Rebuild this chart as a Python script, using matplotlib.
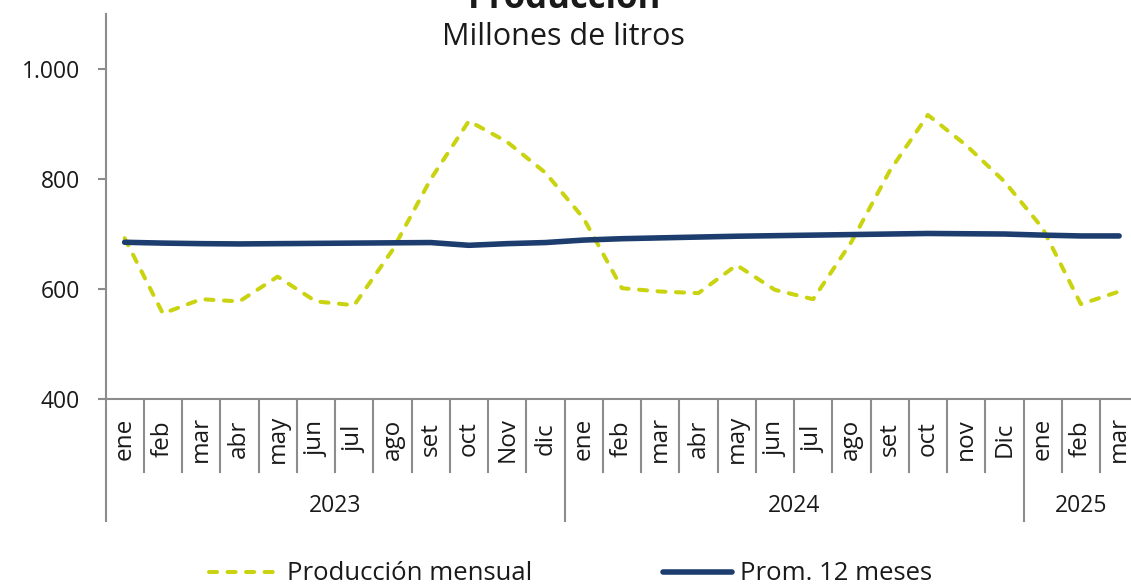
import matplotlib
matplotlib.use("Agg")
import matplotlib.pyplot as plt
import matplotlib.transforms as mtransforms
from matplotlib.lines import Line2D
from matplotlib.ticker import FuncFormatter

# data (millones de litros)
meses = ["ene", "feb", "mar", "abr", "may", "jun", "jul", "ago", "set", "oct", "Nov", "dic",
         "ene", "feb", "mar", "abr", "may", "jun", "jul", "ago", "set", "oct", "nov", "Dic",
         "ene", "feb", "mar"]
anios = ["2023", "2024", "2025"]
meses_por_anio = [12, 12, 3]
produccion = [693, 556, 582, 578, 623, 578, 571, 671, 800, 906, 868, 812,
              729, 602, 596, 593, 644, 599, 582, 686, 815, 917, 862, 796,
              711, 573, 596]
promedio = [685.5, 684, 683, 682.5, 683, 683.5, 684, 684.5, 685, 680, 683, 685,
            689.5, 692, 693.5, 695, 696.5, 697.5, 698.5, 699.5, 700.5, 701.5, 701, 700.5,
            698.5, 697, 697]

amarillo = "#CAD30F"
azul = "#1C3D6E"
gris = "#8C8C8C"
texto = "#1A1A1A"
fuente = "Open Sans"

W, H = 1131, 586
fig = plt.figure(figsize=(W / 100, H / 100), dpi=100)

# axes box in pixels: left 105.5, right 1138.25, top 14.3, bottom 399.3
left, right, top, bottom = 105.5, 1138.25, 14.3, 399.3
ax = fig.add_axes([left / W, (H - bottom) / H, (right - left) / W, (bottom - top) / H])

x = list(range(len(meses)))
ax.plot(x, produccion, color=amarillo, lw=2.9, dashes=(2.0, 2.6),
        dash_capstyle="round", solid_capstyle="round", zorder=2)
ax.plot(x, promedio, color=azul, lw=4, solid_capstyle="round", zorder=3)

ax.set_xlim(-0.5, len(meses) - 0.5)
ax.set_ylim(400, 1100)
ax.set_yticks([400, 600, 800, 1000])
ax.yaxis.set_major_formatter(FuncFormatter(lambda v, p: f"{int(v):,}".replace(",", ".")))
ax.tick_params(axis="y", length=6, width=1.5, color=gris, pad=12.5,
               labelsize=16.5, labelcolor=texto)
for lab in ax.get_yticklabels():
    lab.set_fontfamily(fuente)
ax.set_xticks([])

for s in ["top", "right"]:
    ax.spines[s].set_visible(False)
for s in ["left", "bottom"]:
    ax.spines[s].set_color(gris)
    ax.spines[s].set_linewidth(1.5)

# multi level category axis drawn below the plot
trans = mtransforms.blended_transform_factory(ax.transData, ax.transAxes)
def ypix(py):
    return (bottom - py) / (bottom - top)

y_mes = ypix(472)
y_anio = ypix(521)
fronteras = [-0.5]
acc = -0.5
for n in meses_por_anio:
    acc += n
    fronteras.append(acc)

for i in range(1, len(meses)):
    xs = i - 0.5
    if xs in fronteras:
        continue
    ax.add_line(Line2D([xs, xs], [0, y_mes], transform=trans, color=gris,
                       lw=1.5, clip_on=False))
for xs in fronteras:
    ax.add_line(Line2D([xs, xs], [0, y_anio], transform=trans, color=gris,
                       lw=1.5, clip_on=False))

for i, m in enumerate(meses):
    ax.text(i, ypix(439), m, transform=trans, rotation=90, ha="center", va="center",
            fontsize=17.5, color=texto, family=fuente)

inicio = 0
for a, n in zip(anios, meses_por_anio):
    ax.text(inicio + (n - 1) / 2, ypix(506), a, transform=trans, ha="center", va="center",
            fontsize=16.5, color=texto, family=fuente)
    inicio += n

# titles (the main title is cut by the top edge in the reference)
fig.text(565 / W, 1 - 8 / H, "Producción", ha="center", va="baseline",
         fontsize=25, fontweight="bold", color=texto, family=fuente)
fig.text(563 / W, 1 - 45 / H, "Millones de litros", ha="center", va="baseline",
         fontsize=22, color=texto, family=fuente)

handles = [Line2D([], [], color=amarillo, lw=2.9, dashes=(2.0, 2.6), dash_capstyle="round"),
           Line2D([], [], color=azul, lw=4, solid_capstyle="round")]
fig.legend(handles, ["Producción mensual", "Prom. 12 meses"], loc="center",
           bbox_to_anchor=(571 / W, 1 - 574 / H), ncol=2, frameon=False,
           prop={"family": fuente, "size": 18.5}, handlelength=2.7, handletextpad=0.31,
           columnspacing=5.1, labelcolor=texto)

fig.savefig("out.png", dpi=100)
